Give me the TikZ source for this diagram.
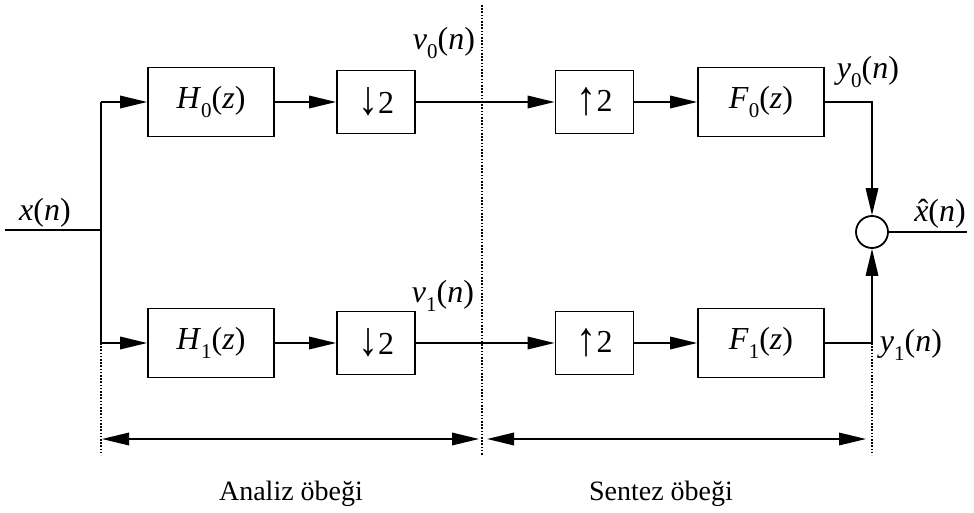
\documentclass[tikz,border=0pt]{standalone}
\usepackage{fontspec}
\usepackage{graphicx}
\setmainfont{Liberation Serif}
\usetikzlibrary{arrows.meta}
% lowered, smaller index digit for signal and filter names
\newcommand{\lowidx}[1]{\raisebox{-0.28em}{\fontsize{21}{22}\selectfont #1}}
% italic x with a circumflex above it
\newcommand{\xhat}{{\ooalign{\textit{x}\cr\hidewidth\kern0.12em ˆ\hidewidth\cr}}}
% rate-change arrows, enlarged to the height of the digit
\newcommand{\dnarrow}{\raisebox{-0.03em}{\scalebox{1.25}[1.5]{↓}}}
\newcommand{\uparr}{\raisebox{-0.1em}{\scalebox{1.25}[1.5]{↑}}}
\begin{document}
\begin{tikzpicture}[x=1pt,y=-1pt,
  font=\fontsize{32}{36}\selectfont,
  blk/.style={draw, line width=1.8pt, minimum height=69pt, minimum width=126pt, inner sep=0pt},
  sml/.style={draw, line width=1.8pt, minimum height=63pt, minimum width=78pt, inner sep=0pt,
              font=\fontsize{32}{36}\selectfont},
  wire/.style={line width=1.8pt},
  tip/.tip={Triangle[length=27pt,width=12.5pt]},
  flow/.style={wire, -tip},
  span/.style={wire, tip-tip},
  guide/.style={line width=2pt, dash pattern=on 1.6pt off 1.6pt},
  lbl/.style={inner sep=0pt},
  stage/.style={inner sep=0pt, anchor=base, font=\fontsize{28}{32}\selectfont}]
\useasboundingbox (0,0) rectangle (974,513);

% analysis and synthesis blocks
\node[blk] (h0) at (211,102) {\textit{H}\lowidx{0}(\textit{z})};
\node[sml] (d0) at (376,102) {\dnarrow2};
\node[sml] (u0) at (594.5,102) {\uparr2};
\node[blk] (f0) at (761,102) {\textit{F}\lowidx{0}(\textit{z})};
\node[blk] (h1) at (211,343) {\textit{H}\lowidx{1}(\textit{z})};
\node[sml] (d1) at (376,343) {\dnarrow2};
\node[sml] (u1) at (594.5,343) {\uparr2};
\node[blk] (f1) at (761,343) {\textit{F}\lowidx{1}(\textit{z})};
\node[circle, draw, line width=1.8pt, minimum size=32pt, inner sep=0pt] (sum) at (872,232) {};

% junction points
\coordinate (in) at (5,230);
\coordinate (br) at (101,230);
\coordinate (b0) at (101,102);
\coordinate (b1) at (101,343);
\coordinate (c0) at (872,102);
\coordinate (c1) at (872,343);
\coordinate (out) at (967,232);

% signal paths
\draw[wire] (in) -- (br);
\draw[wire] (b0) -- (b1);
\draw[flow] (b0) -- (h0);
\draw[flow] (h0) -- (d0);
\draw[flow] (d0) -- (u0);
\draw[flow] (u0) -- (f0);
\draw[flow] (b1) -- (h1);
\draw[flow] (h1) -- (d1);
\draw[flow] (d1) -- (u1);
\draw[flow] (u1) -- (f1);
\draw[flow] (f0.east) -- (c0) -- (sum.north);
\draw[flow] (f1.east) -- (c1) -- (sum.south);
\draw[wire] (sum) -- (out);

% stage boundaries
\coordinate (gL1) at (101,455);
\coordinate (gM0) at (482,5);
\coordinate (gM1) at (482,455);
\coordinate (gR1) at (872,455);
\draw[guide] (b1) -- (gL1);
\draw[guide] (gM0) -- (gM1);
\draw[guide] (c1) -- (gR1);

% stage extents
\coordinate (aL) at (101,439);
\coordinate (aM) at (482,439);
\coordinate (aR) at (872,439);
\draw[span, shorten <=1pt, shorten >=3pt] (aL) -- (aM);
\draw[span, shorten <=5pt, shorten >=6pt] (aM) -- (aR);

% signal labels
\node[lbl] (xl) at (45,213) {\textit{x}(\textit{n})};
\node[lbl] (v0l) at (444,43) {\textit{v}\lowidx{0}(\textit{n})};
\node[lbl] (v1l) at (443,296) {\textit{v}\lowidx{1}(\textit{n})};
\node[lbl] (y0l) at (868,72) {\textit{y}\lowidx{0}(\textit{n})};
\node[lbl] (y1l) at (911,345) {\textit{y}\lowidx{1}(\textit{n})};
\node[lbl] (xh) at (940,214) {\xhat(\textit{n})};

% stage names
\node[stage] (an) at (291,500) {Analiz öbeği};
\node[stage] (se) at (661,500) {Sentez öbeği};
\end{tikzpicture}
\end{document}
